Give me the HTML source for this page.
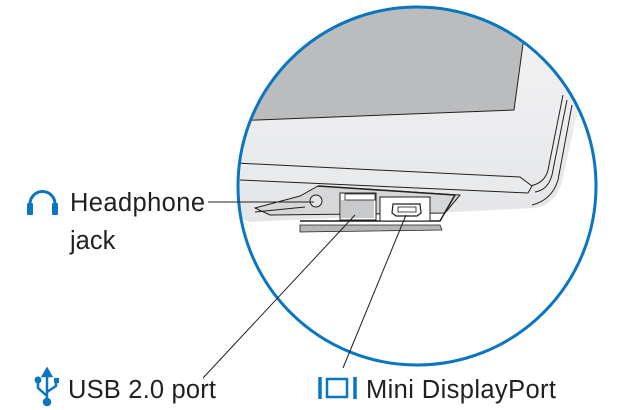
<!DOCTYPE html>
<html><head><style>
html,body{margin:0;padding:0;background:#fff;width:626px;height:410px;overflow:hidden}
svg{position:absolute;left:0;top:0}
text{font-family:"Liberation Sans",sans-serif;fill:#231f20;font-size:25.5px}
</style></head><body>
<svg width="626" height="410" viewBox="0 0 626 410">
<defs>
<clipPath id="c"><circle cx="417" cy="186" r="179"/></clipPath>
<linearGradient id="g" x1="0" y1="0" x2="0" y2="1"><stop offset="0" stop-color="#f5f5f6"/><stop offset="1" stop-color="#e4e5e7"/></linearGradient>
</defs>
<g clip-path="url(#c)">
<rect x="230" y="0" width="400" height="410" fill="#fff"/>
<path d="M230 0 L630 0 L630 110 L578 110 L562 182 Q555 205 535 208 L250 222 L230 215 Z" fill="url(#g)"/>
<polygon points="230,121 514,110 529,0 230,0" fill="#bbbcbe" stroke="#231f20" stroke-width="1"/>
<path d="M563 95 L548 170 Q545 183 530 186" fill="none" stroke="#231f20" stroke-width="1"/>
<path d="M567 100 L552 175 Q548 190 535 192" fill="none" stroke="#231f20" stroke-width="1"/>
<path d="M572 105 L558 180 Q552 200 532 205" fill="none" stroke="#231f20" stroke-width="1"/>
<path d="M235 163 L520 177 L532 186 L528 193 L240 180" fill="#e9eaeb" stroke="#231f20" stroke-width="1"/>
<path d="M318 186 L460 195 L445 213 L270 215 L255 208 L300 196 Z" fill="#d6d7d9" stroke="#231f20" stroke-width="1"/>
<path d="M300 225 L440 225 L442 230 L300 232 Z" fill="#b5b6b8" stroke="#231f20" stroke-width="0.8"/>
<path d="M318 186 L455 195 L440 221 L300 221" fill="none" stroke="#231f20" stroke-width="1.5"/>
<rect x="340" y="193" width="36" height="27" fill="#fff" stroke="#231f20"/>
<rect x="341" y="200" width="33" height="18" fill="#c8c9cb"/>
<rect x="345" y="194" width="30" height="6" fill="#fff" stroke="#231f20" stroke-width="0.8"/>
<rect x="380" y="197" width="50" height="24" fill="#fff" stroke="#231f20"/>
<path d="M393 204 L420 204 L421 213 L417 216 L396 216 L392 213 Z" fill="#fff" stroke="#231f20" stroke-width="1.2"/>
<rect x="398" y="207" width="18" height="5" fill="#fff" stroke="#231f20" stroke-width="0.8"/>
<circle cx="316" cy="201" r="6" fill="#e6e6e7" stroke="#231f20"/>
<path d="M255 212 L305 207" stroke="#231f20" fill="none"/>
</g>
<circle cx="417" cy="186" r="179" fill="none" stroke="#0a76c0" stroke-width="3"/>
<line x1="208" y1="202" x2="314" y2="202" stroke="#231f20" stroke-width="1"/>
<line x1="203" y1="378" x2="355" y2="215" stroke="#231f20" stroke-width="1"/>
<line x1="343" y1="368" x2="406" y2="215" stroke="#231f20" stroke-width="1"/>
<text x="70" y="211" textLength="135">Headphone</text>
<text x="70" y="249">jack</text>
<text x="68" y="398" textLength="148">USB 2.0 port</text>
<text x="366" y="398" textLength="190">Mini DisplayPort</text>
<path d="M30 212 L30 204 A12.5 12.5 0 0 1 55 204 L55 212" fill="none" stroke="#0a76c0" stroke-width="3"/>
<rect x="27" y="203" width="6" height="12" rx="1" fill="#0a76c0"/>
<rect x="52" y="203" width="6" height="12" rx="1" fill="#0a76c0"/>
<g stroke="#0a76c0" stroke-width="2.5" fill="#0a76c0">
<line x1="47" y1="374" x2="47" y2="401"/>
<path d="M47 369 L43 376 L51 376 Z"/>
<path d="M47 396 L38 388 L38 382" fill="none"/>
<path d="M47 392 L56 386 L56 382" fill="none"/>
<circle cx="38" cy="380" r="2.2"/>
<rect x="54" y="378" width="5" height="5" stroke="none"/>
<circle cx="47" cy="402" r="3"/>
</g>
<g fill="none" stroke="#0a76c0" stroke-width="3.5">
<line x1="320" y1="377" x2="320" y2="399"/>
<rect x="327" y="379" width="20" height="18" stroke-width="2.5"/>
<line x1="355" y1="377" x2="355" y2="399"/>
</g>
</svg>
</body></html>
